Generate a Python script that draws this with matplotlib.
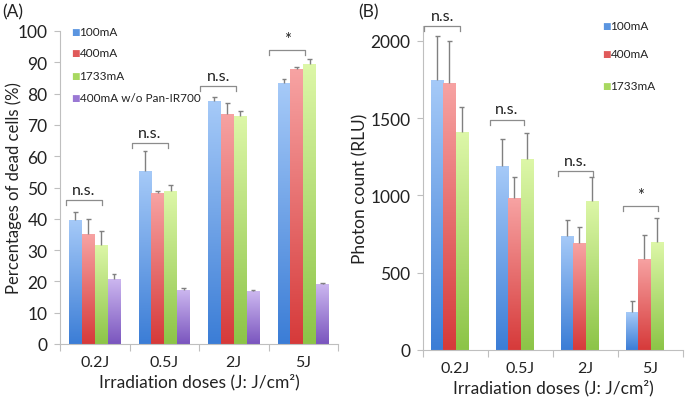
import numpy as np
import matplotlib
matplotlib.use("Agg")
import matplotlib.pyplot as plt
from matplotlib.colors import LinearSegmentedColormap

plt.rcParams['font.family'] = ['Lato', 'DejaVu Sans']

categories = ["0.2J", "0.5J", "2J", "5J"]

# Panel A: percentage of dead cells
seriesA = ["100mA", "400mA", "1733mA", "400mA w/o Pan-IR700"]
a_100 = [39.7, 55.3, 77.6, 83.3]
a_400 = [35.0, 48.2, 73.6, 87.7]
a_1733 = [31.7, 48.9, 72.9, 89.6]
a_ctrl = [20.8, 17.4, 16.9, 19.2]
a_100_err = [2.6, 6.3, 1.3, 1.3]
a_400_err = [5.0, 0.6, 3.4, 0.7]
a_1733_err = [4.3, 1.9, 1.7, 1.4]
a_ctrl_err = [1.6, 0.6, 0.2, 0.4]
a_sig = ["n.s.", "n.s.", "n.s.", "*"]
a_sig_y = [46.0, 64.2, 82.4, 94.0]

# Panel B: photon count
seriesB = ["100mA", "400mA", "1733mA"]
b_100 = [1750, 1191, 740, 244]
b_400 = [1728, 982, 690, 589]
b_1733 = [1408, 1234, 966, 697]
b_100_err = [280, 173, 103, 71]
b_400_err = [274, 136, 108, 155]
b_1733_err = [167, 170, 152, 157]
b_sig = ["n.s.", "n.s.", "n.s.", "*"]
b_sig_y = [2099, 1491, 1160, 934]

grads = [("#3B7DD6", "#A6CAF8"), ("#D63A3A", "#F7A3A3"),
         ("#8CC447", "#DDF7A8"), ("#7A55BE", "#CDB8F0")]
legend_cols = ["#5B95E0", "#E05A5A", "#A8D860", "#9A78D4"]

W, H = 685, 402
fig = plt.figure(figsize=(W / 100, H / 100), dpi=100)

def fbox(l, t, r, b):
    return [l / W, 1 - b / H, (r - l) / W, (b - t) / H]

axA = fig.add_axes(fbox(60, 32, 338, 345))
axB = fig.add_axes(fbox(423, 26.5, 683, 351))

bw = 0.185
spine_c = "#BFBFBF"
err_c = "#808080"
txt_c = "#222222"

def draw_panel(ax, vals, errs, ylim, yticks, sig, sig_y, br_left, br_right, tick_drop):
    x = np.arange(len(categories))
    start = -2 * bw
    for i, (v, e) in enumerate(zip(vals, errs)):
        xs = x + start + bw * (i + 0.5)
        bars = ax.bar(xs, v, width=bw, color="none", edgecolor="none", zorder=2)
        cmap = LinearSegmentedColormap.from_list("g%d" % i, list(grads[i]))
        for b in bars:
            bx, by = b.get_x(), b.get_y()
            bwid, bh = b.get_width(), b.get_height()
            im = ax.imshow(np.linspace(0, 1, 256).reshape(-1, 1), cmap=cmap,
                           extent=[bx, bx + bwid, by, by + bh], origin="lower",
                           aspect="auto", zorder=2, interpolation="bilinear")
            im.set_clip_path(b)
        tops = np.array(v) + np.array(e)
        ax.vlines(xs, v, tops, color=err_c, lw=1.0, zorder=3)
        ax.hlines(tops, xs - 0.035, xs + 0.035, color=err_c, lw=1.0, zorder=3)
    ax.set_xlim(-0.5, len(categories) - 0.5)
    ax.set_ylim(*ylim)
    ax.set_yticks(yticks)
    ax.set_xticks(x)
    ax.set_xticklabels(categories)
    ax.set_xticks(np.arange(len(categories) + 1) - 0.5, minor=True)
    ax.tick_params(axis="x", which="major", length=0, labelsize=11.5, pad=8, labelcolor=txt_c)
    ax.tick_params(axis="x", which="minor", length=5, color=spine_c, width=0.8)
    ax.tick_params(axis="y", length=4, color=spine_c, width=0.8, labelsize=12.5,
                   labelcolor=txt_c, pad=5)
    for s in ["top", "right"]:
        ax.spines[s].set_visible(False)
    for s in ["left", "bottom"]:
        ax.spines[s].set_color(spine_c)
        ax.spines[s].set_linewidth(0.8)
    for i, (lab, yy) in enumerate(zip(sig, sig_y)):
        l, r = x[i] + br_left[i], x[i] + br_right[i]
        ax.plot([l, l, r, r], [yy - tick_drop, yy, yy, yy - tick_drop],
                color="#8C8C8C", lw=0.9, zorder=3, clip_on=False)
        ax.text((l + r) / 2, yy + tick_drop * 0.6, lab, ha="center", va="bottom",
                fontsize=11.5 if lab != "*" else 12, color=txt_c)
    ax.set_xlabel("Irradiation doses (J: J/cm\u00b2)", fontsize=12.5, color=txt_c, labelpad=3)

draw_panel(axA, [a_100, a_400, a_1733, a_ctrl],
           [a_100_err, a_400_err, a_1733_err, a_ctrl_err],
           (0, 100), np.arange(0, 101, 10), a_sig, a_sig_y,
           [-0.41, -0.46, -0.48, -0.49], [0.10, 0.05, 0.03, 0.03], 1.7)
axA.set_ylabel("Percentages of dead cells (%)", fontsize=12, color=txt_c)
axA.yaxis.set_label_coords(-38 / 278, 0.5)

draw_panel(axB, [b_100, b_400, b_1733],
           [b_100_err, b_400_err, b_1733_err],
           (0, 2100), np.arange(0, 2001, 500), b_sig, b_sig_y,
           [-0.48, -0.47, -0.42, -0.42], [0.07, 0.05, 0.11, 0.11], 34)
axB.set_ylabel("Photon count (RLU)", fontsize=12.5, color=txt_c)
axB.yaxis.set_label_coords(-55 / 260, 0.5)

def legend(names, ypix, xpix):
    for i, n in enumerate(names):
        xf = xpix / W
        yf = 1 - ypix[i] / H
        fig.text(xf, yf, "\u25A0", fontsize=6.5, color=legend_cols[i], ha="left", va="center",
                 family="DejaVu Sans")
        fig.text(xf + 8.5 / W, yf, n, fontsize=8.5, color=txt_c, ha="left", va="center")

legend(seriesA, [32, 54, 76, 99], 71)
legend(seriesB, [26, 55, 86], 602)

fig.text(2 / W, 1 - 12 / H, "(A)", fontsize=12.5, va="center", ha="left", color=txt_c)
fig.text(358 / W, 1 - 12 / H, "(B)", fontsize=12.5, va="center", ha="left", color=txt_c)

fig.savefig("out.png", dpi=100)
